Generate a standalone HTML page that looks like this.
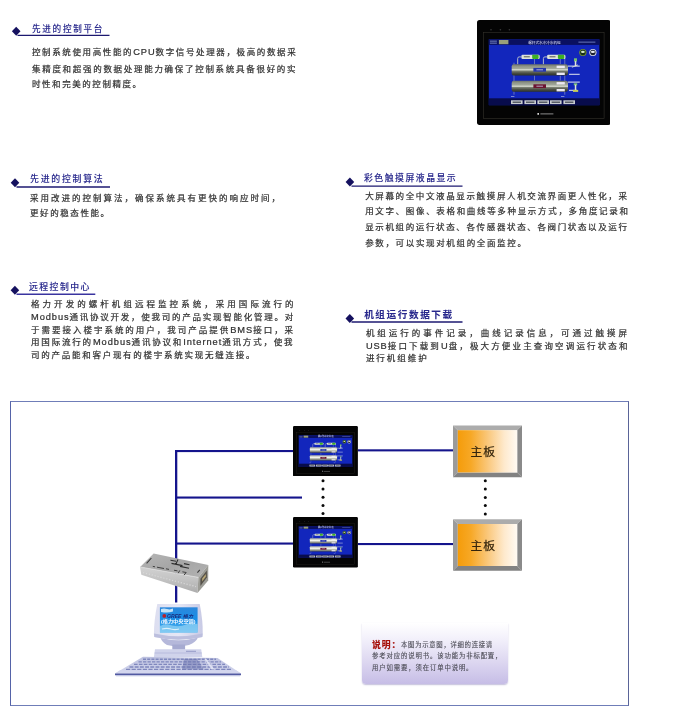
<!DOCTYPE html><html lang="zh-CN"><head><meta charset="utf-8"><title>控制系统</title><style>
*{margin:0;padding:0;box-sizing:border-box}
html,body{width:700px;height:721px;background:#fff;overflow:hidden}
body{position:relative;font-family:"Liberation Sans","Noto Sans CJK SC",sans-serif;color:#303030}
.ln{position:absolute;white-space:nowrap;line-height:14px;height:14px;-webkit-text-stroke:0.22px currentColor}
.hd{color:#28288c;-webkit-text-stroke:0.08px currentColor}
.ul{position:absolute;height:1.3px;background:#1c1870}
.dm{position:absolute;width:6.2px;height:6.2px;background:#15115f;transform:rotate(45deg)}
.la{font-size:1.09em;letter-spacing:.95px}
.abs{position:absolute}
</style></head><body>
<div id="gx" style="position:absolute;left:0;top:0;width:700px;height:721px;will-change:transform"><div class="abs" style="left:10px;top:401px;width:619px;height:305px;border:1px solid #6f7db8;border-left-color:#5563a8;border-right-color:#5a6498"></div>
<svg class="abs" style="left:0;top:0" width="700" height="721" viewBox="0 0 700 721"><line x1="17.50" y1="35.40" x2="109.50" y2="35.40" stroke="#1c1870" stroke-width="1.35"/><polygon points="11.90,31.30 16.20,26.80 20.50,31.30 16.20,35.80" fill="#15115f"/><line x1="16.50" y1="187.00" x2="110.00" y2="187.00" stroke="#1c1870" stroke-width="1.35"/><polygon points="10.70,182.80 15.00,178.30 19.30,182.80 15.00,187.30" fill="#15115f"/><line x1="16.50" y1="294.20" x2="95.30" y2="294.20" stroke="#3a34a0" stroke-width="1.35"/><polygon points="10.60,290.20 14.90,285.70 19.20,290.20 14.90,294.70" fill="#15115f"/><line x1="351.50" y1="186.10" x2="462.50" y2="186.10" stroke="#1c1870" stroke-width="1.35"/><polygon points="345.60,182.10 349.90,177.60 354.20,182.10 349.90,186.60" fill="#15115f"/><line x1="351.50" y1="322.00" x2="462.50" y2="322.00" stroke="#1c1870" stroke-width="1.35"/><polygon points="345.50,318.40 349.80,313.90 354.10,318.40 349.80,322.90" fill="#15115f"/><rect x="175.00" y="450.00" width="2.30" height="152.50" fill="#14148c"/><rect x="175.00" y="450.00" width="119.00" height="2.10" fill="#14148c"/><rect x="175.00" y="496.50" width="127.00" height="2.10" fill="#14148c"/><rect x="175.00" y="542.50" width="119.00" height="2.10" fill="#14148c"/><rect x="358.00" y="449.30" width="96.00" height="2.10" fill="#14148c"/><rect x="358.00" y="543.00" width="96.00" height="2.10" fill="#14148c"/><circle cx="323.00" cy="480.70" r="1.50" fill="#0a0a0a"/><circle cx="323.00" cy="489.00" r="1.50" fill="#0a0a0a"/><circle cx="323.00" cy="497.30" r="1.50" fill="#0a0a0a"/><circle cx="323.00" cy="505.60" r="1.50" fill="#0a0a0a"/><circle cx="323.00" cy="513.50" r="1.50" fill="#0a0a0a"/><circle cx="485.30" cy="480.70" r="1.50" fill="#0a0a0a"/><circle cx="485.30" cy="489.10" r="1.50" fill="#0a0a0a"/><circle cx="485.30" cy="497.50" r="1.50" fill="#0a0a0a"/><circle cx="485.30" cy="505.60" r="1.50" fill="#0a0a0a"/><circle cx="485.30" cy="514.00" r="1.50" fill="#0a0a0a"/></svg>
<svg class="abs" style="left:448px;top:420px" width="80" height="60" viewBox="448 420 80 60"><defs><linearGradient id="og1" x1="0" y1="0" x2="1" y2="0"><stop offset="0" stop-color="#f59c0a"/><stop offset=".22" stop-color="#f7a826"/><stop offset=".5" stop-color="#fac77a"/><stop offset=".78" stop-color="#fee9cc"/><stop offset="1" stop-color="#fffaf3"/></linearGradient></defs><polygon points="453.00,425.40 522.00,425.40 517.20,430.20 457.80,430.20" fill="#acacac"/><polygon points="453.00,425.40 457.80,430.20 457.80,472.40 453.00,477.20" fill="#9b9b9b"/><polygon points="522.00,425.40 522.00,477.20 517.20,472.40 517.20,430.20" fill="#8a8a8a"/><polygon points="453.00,477.20 457.80,472.40 517.20,472.40 522.00,477.20" fill="#828282"/><rect x="457.80" y="430.20" width="59.40" height="42.20" fill="url(#og1)"/></svg>
<svg class="abs" style="left:448px;top:514px" width="80" height="60" viewBox="448 514 80 60"><defs><linearGradient id="og2" x1="0" y1="0" x2="1" y2="0"><stop offset="0" stop-color="#f59c0a"/><stop offset=".22" stop-color="#f7a826"/><stop offset=".5" stop-color="#fac77a"/><stop offset=".78" stop-color="#fee9cc"/><stop offset="1" stop-color="#fffaf3"/></linearGradient></defs><polygon points="453.00,519.20 522.00,519.20 517.20,524.00 457.80,524.00" fill="#acacac"/><polygon points="453.00,519.20 457.80,524.00 457.80,566.00 453.00,570.80" fill="#9b9b9b"/><polygon points="522.00,519.20 522.00,570.80 517.20,566.00 517.20,524.00" fill="#8a8a8a"/><polygon points="453.00,570.80 457.80,566.00 517.20,566.00 522.00,570.80" fill="#828282"/><rect x="457.80" y="524.00" width="59.40" height="42.00" fill="url(#og2)"/></svg>
<div class="abs" style="left:362px;top:623px;width:145.5px;height:60.8px;border-radius:0 0 4px 4px;background:linear-gradient(180deg,#ffffff 0%,#f3f1fb 25%,#dcd6f0 65%,#c6bde6 100%);box-shadow:0 1px 1.5px rgba(120,110,170,.45)"></div>
<svg class="abs" style="left:476.60px;top:20.30px" width="133.90" height="104.90" viewBox="476.6 20.3 133.9 104.9" preserveAspectRatio="none"><defs><linearGradient id="tka" x1="0" y1="0" x2="0" y2="1"><stop offset="0" stop-color="#6c7268"/><stop offset=".18" stop-color="#8f9588"/><stop offset=".40" stop-color="#a4aa9c"/><stop offset=".50" stop-color="#e2e6da"/><stop offset=".60" stop-color="#7c8274"/><stop offset=".8" stop-color="#4a4e44"/><stop offset="1" stop-color="#2c3028"/></linearGradient></defs><rect x="476.6" y="20.3" width="133.9" height="104.9" rx="2.6" fill="#040404"/><rect x="483.3" y="33" width="120.4" height="86" fill="none" stroke="#34322c" stroke-width=".6"/><circle cx="490.6" cy="30" r=".8" fill="#3a3a3a"/><circle cx="500" cy="30" r=".8" fill="#3a3a3a"/><circle cx="509" cy="30" r=".8" fill="#3a3a3a"/><rect x="488.4" y="39.6" width="110.6" height="65.9" fill="#1226bc"/><rect x="488.4" y="39.6" width="110.6" height="5.6" fill="#0a1060"/><rect x="488.4" y="98.6" width="110.6" height="6.9" fill="#080c4c"/><rect x="498.5" y="40.3" width="9.5" height="4.2" fill="#9aa07a"/><rect x="489.5" y="41" width="7" height=".8" fill="#8fa0d8"/><rect x="489.5" y="43" width="7" height=".8" fill="#8fa0d8"/><text x="544" y="43.9" font-size="3.6" fill="#e8ecff" text-anchor="middle" font-family='"Liberation Sans","Noto Sans CJK SC",sans-serif'>螺杆式水冷冷水机组</text><rect x="578" y="42" width="17" height=".8" fill="#7f8fd0"/><circle cx="582.5" cy="52.8" r="3.6" fill="#7a9a28"/><circle cx="582.5" cy="52.8" r="2.7" fill="#16301a"/><ellipse cx="582.5" cy="52.2" rx="1.9" ry="1.1" fill="#d8ecc8"/><circle cx="592.5" cy="52.8" r="3.6" fill="#e4e6ea"/><circle cx="592.5" cy="52.8" r="2.7" fill="#1c2030"/><ellipse cx="592.5" cy="52.2" rx="2" ry="1.1" fill="#eef0f4"/><path d="M513.6 63 V95 M564.4 56 V95 M534.1 59 V64.6 M559.9 59 V64.6 M534.1 75.7 V80.8 M559.9 75.7 V80.8" stroke="#9aa4c8" stroke-width=".6" fill="none"/><path d="M521.0 57.2 h-2.2 q-1.5 0 -1.5 1.6 v5.8" fill="none" stroke="#c4c8cc" stroke-width=".9"/><rect x="521.0" y="55.1" width="18.3" height="4.1" rx="1.2" fill="#dfe3da"/><rect x="531.8" y="55.1" width="6.4" height="4.1" rx=".8" fill="#3eb024"/><rect x="523.4" y="56.6" width="6" height="1" fill="#555c50"/><path d="M546.7 57.2 h-2.2 q-1.5 0 -1.5 1.6 v5.8" fill="none" stroke="#c4c8cc" stroke-width=".9"/><rect x="546.7" y="55.1" width="18.3" height="4.1" rx="1.2" fill="#dfe3da"/><rect x="557.5" y="55.1" width="6.4" height="4.1" rx=".8" fill="#3eb024"/><rect x="549.1" y="56.6" width="6" height="1" fill="#555c50"/><rect x="511.3" y="64.6" width="56.3" height="11.1" rx="2.2" fill="url(#tka)"/><rect x="533" y="68.2" width="12.6" height="3.8" fill="#2636ac"/><rect x="536" y="69.6" width="6.6" height="1" fill="#c8cce8" opacity=".8"/><rect x="556.2" y="66.0" width="8.2" height="2.4" fill="#eceaf2"/><rect x="556.2" y="72.9" width="8.2" height="2.4" fill="#eceaf2"/><rect x="511.3" y="81.0" width="56.3" height="11.1" rx="2.2" fill="url(#tka)"/><rect x="533" y="84.6" width="12.6" height="3.8" fill="#6c1430"/><rect x="536" y="86.0" width="6.6" height="1" fill="#c8cce8" opacity=".8"/><rect x="556.2" y="82.4" width="8.2" height="2.4" fill="#eceaf2"/><rect x="556.2" y="89.3" width="8.2" height="2.4" fill="#eceaf2"/><path d="M567.6 66.4 h11.8 M568.6 74.6 h10.7 M567.6 82.4 h11.8 M568.6 90.6 h8" stroke="#e4e8ee" stroke-width="1" fill="none"/><rect x="573.6" y="58.6" width="3" height="3.2" fill="#78c070"/><rect x="574.4" y="61.4" width="1.5" height="5" fill="#e0e4d8"/><path d="M571.5 67.6 l6 -2.4" stroke="#e0e4d8" stroke-width=".8"/><rect x="573.4" y="83.6" width="3.4" height="2" fill="#78c070"/><rect x="574.4" y="85" width="1.5" height="5.6" fill="#e0e4d8"/><rect x="572.6" y="90.2" width="5.2" height="2" fill="#c8cc58"/><rect x="510.6" y="100.6" width="11.6" height="3.8" fill="#c8ccd0"/><rect x="512.2" y="101.9" width="8.4" height="1.2" fill="#3c404c"/><rect x="524.0" y="100.6" width="11.6" height="3.8" fill="#c8ccd0"/><rect x="525.6" y="101.9" width="8.4" height="1.2" fill="#3c404c"/><rect x="537.0" y="100.6" width="11.6" height="3.8" fill="#c8ccd0"/><rect x="538.6" y="101.9" width="8.4" height="1.2" fill="#3c404c"/><rect x="549.6" y="100.6" width="11.6" height="3.8" fill="#c8ccd0"/><rect x="551.2" y="101.9" width="8.4" height="1.2" fill="#3c404c"/><rect x="563.0" y="100.6" width="11.6" height="3.8" fill="#c8ccd0"/><rect x="564.6" y="101.9" width="8.4" height="1.2" fill="#3c404c"/><rect x="510.6" y="96.6" width="3.4" height=".7" fill="#a8b0e0"/><rect x="560.6" y="96.6" width="3.4" height=".7" fill="#a8b0e0"/><rect x="537" y="113.3" width="1.6" height="1.8" fill="#d8d8d8"/><rect x="540" y="113.7" width="13" height="1" fill="#8c8c8c"/></svg>
<svg class="abs" style="left:293.40px;top:425.80px" width="64.90" height="50.50" viewBox="476.6 20.3 133.9 104.9" preserveAspectRatio="none"><defs><linearGradient id="tkb" x1="0" y1="0" x2="0" y2="1"><stop offset="0" stop-color="#a8aca4"/><stop offset=".42" stop-color="#f2f4ec"/><stop offset=".7" stop-color="#a4a89c"/><stop offset="1" stop-color="#4c5048"/></linearGradient></defs><rect x="476.6" y="20.3" width="133.9" height="104.9" rx="2.6" fill="#040404"/><rect x="483.3" y="33" width="120.4" height="86" fill="none" stroke="#34322c" stroke-width=".6"/><circle cx="490.6" cy="30" r=".8" fill="#3a3a3a"/><circle cx="500" cy="30" r=".8" fill="#3a3a3a"/><circle cx="509" cy="30" r=".8" fill="#3a3a3a"/><rect x="488.4" y="39.6" width="110.6" height="65.9" fill="#1226bc"/><rect x="488.4" y="39.6" width="110.6" height="5.6" fill="#0a1060"/><rect x="488.4" y="98.6" width="110.6" height="6.9" fill="#080c4c"/><rect x="498.5" y="40.3" width="9.5" height="4.2" fill="#9aa07a"/><rect x="489.5" y="41" width="7" height=".8" fill="#8fa0d8"/><rect x="489.5" y="43" width="7" height=".8" fill="#8fa0d8"/><text x="544" y="43.9" font-size="3.6" fill="#e8ecff" text-anchor="middle" font-family='"Liberation Sans","Noto Sans CJK SC",sans-serif'>螺杆式水冷冷水机组</text><rect x="578" y="42" width="17" height=".8" fill="#7f8fd0"/><circle cx="582.5" cy="52.8" r="3.6" fill="#7a9a28"/><circle cx="582.5" cy="52.8" r="2.7" fill="#16301a"/><ellipse cx="582.5" cy="52.2" rx="1.9" ry="1.1" fill="#d8ecc8"/><circle cx="592.5" cy="52.8" r="3.6" fill="#e4e6ea"/><circle cx="592.5" cy="52.8" r="2.7" fill="#1c2030"/><ellipse cx="592.5" cy="52.2" rx="2" ry="1.1" fill="#eef0f4"/><path d="M513.6 63 V95 M564.4 56 V95 M534.1 59 V64.6 M559.9 59 V64.6 M534.1 75.7 V80.8 M559.9 75.7 V80.8" stroke="#9aa4c8" stroke-width=".6" fill="none"/><path d="M521.0 57.2 h-2.2 q-1.5 0 -1.5 1.6 v5.8" fill="none" stroke="#c4c8cc" stroke-width=".9"/><rect x="521.0" y="55.1" width="18.3" height="4.1" rx="1.2" fill="#dfe3da"/><rect x="531.8" y="55.1" width="6.4" height="4.1" rx=".8" fill="#3eb024"/><rect x="523.4" y="56.6" width="6" height="1" fill="#555c50"/><path d="M546.7 57.2 h-2.2 q-1.5 0 -1.5 1.6 v5.8" fill="none" stroke="#c4c8cc" stroke-width=".9"/><rect x="546.7" y="55.1" width="18.3" height="4.1" rx="1.2" fill="#dfe3da"/><rect x="557.5" y="55.1" width="6.4" height="4.1" rx=".8" fill="#3eb024"/><rect x="549.1" y="56.6" width="6" height="1" fill="#555c50"/><rect x="511.3" y="64.6" width="56.3" height="11.1" rx="2.2" fill="url(#tkb)"/><rect x="533" y="68.2" width="12.6" height="3.8" fill="#2636ac"/><rect x="536" y="69.6" width="6.6" height="1" fill="#c8cce8" opacity=".8"/><rect x="556.2" y="66.0" width="8.2" height="2.4" fill="#eceaf2"/><rect x="556.2" y="72.9" width="8.2" height="2.4" fill="#eceaf2"/><rect x="511.3" y="81.0" width="56.3" height="11.1" rx="2.2" fill="url(#tkb)"/><rect x="533" y="84.6" width="12.6" height="3.8" fill="#6c1430"/><rect x="536" y="86.0" width="6.6" height="1" fill="#c8cce8" opacity=".8"/><rect x="556.2" y="82.4" width="8.2" height="2.4" fill="#eceaf2"/><rect x="556.2" y="89.3" width="8.2" height="2.4" fill="#eceaf2"/><path d="M567.6 66.4 h11.8 M568.6 74.6 h10.7 M567.6 82.4 h11.8 M568.6 90.6 h8" stroke="#e4e8ee" stroke-width="1" fill="none"/><rect x="573.6" y="58.6" width="3" height="3.2" fill="#78c070"/><rect x="574.4" y="61.4" width="1.5" height="5" fill="#e0e4d8"/><path d="M571.5 67.6 l6 -2.4" stroke="#e0e4d8" stroke-width=".8"/><rect x="573.4" y="83.6" width="3.4" height="2" fill="#78c070"/><rect x="574.4" y="85" width="1.5" height="5.6" fill="#e0e4d8"/><rect x="572.6" y="90.2" width="5.2" height="2" fill="#c8cc58"/><rect x="510.6" y="100.6" width="11.6" height="3.8" fill="#c8ccd0"/><rect x="512.2" y="101.9" width="8.4" height="1.2" fill="#3c404c"/><rect x="524.0" y="100.6" width="11.6" height="3.8" fill="#c8ccd0"/><rect x="525.6" y="101.9" width="8.4" height="1.2" fill="#3c404c"/><rect x="537.0" y="100.6" width="11.6" height="3.8" fill="#c8ccd0"/><rect x="538.6" y="101.9" width="8.4" height="1.2" fill="#3c404c"/><rect x="549.6" y="100.6" width="11.6" height="3.8" fill="#c8ccd0"/><rect x="551.2" y="101.9" width="8.4" height="1.2" fill="#3c404c"/><rect x="563.0" y="100.6" width="11.6" height="3.8" fill="#c8ccd0"/><rect x="564.6" y="101.9" width="8.4" height="1.2" fill="#3c404c"/><rect x="510.6" y="96.6" width="3.4" height=".7" fill="#a8b0e0"/><rect x="560.6" y="96.6" width="3.4" height=".7" fill="#a8b0e0"/><rect x="537" y="113.3" width="1.6" height="1.8" fill="#d8d8d8"/><rect x="540" y="113.7" width="13" height="1" fill="#8c8c8c"/></svg>
<svg class="abs" style="left:293.40px;top:517.40px" width="64.90" height="50.40" viewBox="476.6 20.3 133.9 104.9" preserveAspectRatio="none"><defs><linearGradient id="tkc" x1="0" y1="0" x2="0" y2="1"><stop offset="0" stop-color="#a8aca4"/><stop offset=".42" stop-color="#f2f4ec"/><stop offset=".7" stop-color="#a4a89c"/><stop offset="1" stop-color="#4c5048"/></linearGradient></defs><rect x="476.6" y="20.3" width="133.9" height="104.9" rx="2.6" fill="#040404"/><rect x="483.3" y="33" width="120.4" height="86" fill="none" stroke="#34322c" stroke-width=".6"/><circle cx="490.6" cy="30" r=".8" fill="#3a3a3a"/><circle cx="500" cy="30" r=".8" fill="#3a3a3a"/><circle cx="509" cy="30" r=".8" fill="#3a3a3a"/><rect x="488.4" y="39.6" width="110.6" height="65.9" fill="#1226bc"/><rect x="488.4" y="39.6" width="110.6" height="5.6" fill="#0a1060"/><rect x="488.4" y="98.6" width="110.6" height="6.9" fill="#080c4c"/><rect x="498.5" y="40.3" width="9.5" height="4.2" fill="#9aa07a"/><rect x="489.5" y="41" width="7" height=".8" fill="#8fa0d8"/><rect x="489.5" y="43" width="7" height=".8" fill="#8fa0d8"/><text x="544" y="43.9" font-size="3.6" fill="#e8ecff" text-anchor="middle" font-family='"Liberation Sans","Noto Sans CJK SC",sans-serif'>螺杆式水冷冷水机组</text><rect x="578" y="42" width="17" height=".8" fill="#7f8fd0"/><circle cx="582.5" cy="52.8" r="3.6" fill="#7a9a28"/><circle cx="582.5" cy="52.8" r="2.7" fill="#16301a"/><ellipse cx="582.5" cy="52.2" rx="1.9" ry="1.1" fill="#d8ecc8"/><circle cx="592.5" cy="52.8" r="3.6" fill="#e4e6ea"/><circle cx="592.5" cy="52.8" r="2.7" fill="#1c2030"/><ellipse cx="592.5" cy="52.2" rx="2" ry="1.1" fill="#eef0f4"/><path d="M513.6 63 V95 M564.4 56 V95 M534.1 59 V64.6 M559.9 59 V64.6 M534.1 75.7 V80.8 M559.9 75.7 V80.8" stroke="#9aa4c8" stroke-width=".6" fill="none"/><path d="M521.0 57.2 h-2.2 q-1.5 0 -1.5 1.6 v5.8" fill="none" stroke="#c4c8cc" stroke-width=".9"/><rect x="521.0" y="55.1" width="18.3" height="4.1" rx="1.2" fill="#dfe3da"/><rect x="531.8" y="55.1" width="6.4" height="4.1" rx=".8" fill="#3eb024"/><rect x="523.4" y="56.6" width="6" height="1" fill="#555c50"/><path d="M546.7 57.2 h-2.2 q-1.5 0 -1.5 1.6 v5.8" fill="none" stroke="#c4c8cc" stroke-width=".9"/><rect x="546.7" y="55.1" width="18.3" height="4.1" rx="1.2" fill="#dfe3da"/><rect x="557.5" y="55.1" width="6.4" height="4.1" rx=".8" fill="#3eb024"/><rect x="549.1" y="56.6" width="6" height="1" fill="#555c50"/><rect x="511.3" y="64.6" width="56.3" height="11.1" rx="2.2" fill="url(#tkc)"/><rect x="533" y="68.2" width="12.6" height="3.8" fill="#2636ac"/><rect x="536" y="69.6" width="6.6" height="1" fill="#c8cce8" opacity=".8"/><rect x="556.2" y="66.0" width="8.2" height="2.4" fill="#eceaf2"/><rect x="556.2" y="72.9" width="8.2" height="2.4" fill="#eceaf2"/><rect x="511.3" y="81.0" width="56.3" height="11.1" rx="2.2" fill="url(#tkc)"/><rect x="533" y="84.6" width="12.6" height="3.8" fill="#6c1430"/><rect x="536" y="86.0" width="6.6" height="1" fill="#c8cce8" opacity=".8"/><rect x="556.2" y="82.4" width="8.2" height="2.4" fill="#eceaf2"/><rect x="556.2" y="89.3" width="8.2" height="2.4" fill="#eceaf2"/><path d="M567.6 66.4 h11.8 M568.6 74.6 h10.7 M567.6 82.4 h11.8 M568.6 90.6 h8" stroke="#e4e8ee" stroke-width="1" fill="none"/><rect x="573.6" y="58.6" width="3" height="3.2" fill="#78c070"/><rect x="574.4" y="61.4" width="1.5" height="5" fill="#e0e4d8"/><path d="M571.5 67.6 l6 -2.4" stroke="#e0e4d8" stroke-width=".8"/><rect x="573.4" y="83.6" width="3.4" height="2" fill="#78c070"/><rect x="574.4" y="85" width="1.5" height="5.6" fill="#e0e4d8"/><rect x="572.6" y="90.2" width="5.2" height="2" fill="#c8cc58"/><rect x="510.6" y="100.6" width="11.6" height="3.8" fill="#c8ccd0"/><rect x="512.2" y="101.9" width="8.4" height="1.2" fill="#3c404c"/><rect x="524.0" y="100.6" width="11.6" height="3.8" fill="#c8ccd0"/><rect x="525.6" y="101.9" width="8.4" height="1.2" fill="#3c404c"/><rect x="537.0" y="100.6" width="11.6" height="3.8" fill="#c8ccd0"/><rect x="538.6" y="101.9" width="8.4" height="1.2" fill="#3c404c"/><rect x="549.6" y="100.6" width="11.6" height="3.8" fill="#c8ccd0"/><rect x="551.2" y="101.9" width="8.4" height="1.2" fill="#3c404c"/><rect x="563.0" y="100.6" width="11.6" height="3.8" fill="#c8ccd0"/><rect x="564.6" y="101.9" width="8.4" height="1.2" fill="#3c404c"/><rect x="510.6" y="96.6" width="3.4" height=".7" fill="#a8b0e0"/><rect x="560.6" y="96.6" width="3.4" height=".7" fill="#a8b0e0"/><rect x="537" y="113.3" width="1.6" height="1.8" fill="#d8d8d8"/><rect x="540" y="113.7" width="13" height="1" fill="#8c8c8c"/></svg>
<svg class="abs" style="left:105px;top:545px" width="150" height="140" viewBox="105 545 150 140">
<defs>
<linearGradient id="cvt" x1="0" y1="0" x2="1" y2="1"><stop offset="0" stop-color="#b6b6b6"/><stop offset=".5" stop-color="#a6a6a6"/><stop offset="1" stop-color="#b2b2b2"/></linearGradient>
<linearGradient id="cvf" x1="0" y1="0" x2="0" y2="1"><stop offset="0" stop-color="#d2d2d2"/><stop offset=".45" stop-color="#c4c4c4"/><stop offset="1" stop-color="#adadad"/></linearGradient>
<linearGradient id="sky" x1="0" y1="0" x2="0" y2="1"><stop offset="0" stop-color="#2c88dc"/><stop offset=".45" stop-color="#1a8ee6"/><stop offset="1" stop-color="#55b6ee"/></linearGradient>
<linearGradient id="mon" x1="0" y1="0" x2="1" y2="0"><stop offset="0" stop-color="#dcdef0"/><stop offset=".5" stop-color="#e6e7f5"/><stop offset="1" stop-color="#c8cae5"/></linearGradient>
<linearGradient id="kb" x1="0" y1="0" x2="0" y2="1"><stop offset="0" stop-color="#bcc0df"/><stop offset="1" stop-color="#d4d7ee"/></linearGradient>
</defs>
<!-- converter -->
<polygon points="153.6,553.5 208.3,565.1 198.4,577.4 140.1,567" fill="url(#cvt)"/>
<polygon points="140.1,567 198.4,577.4 197.5,592.9 141.3,574.7" fill="url(#cvf)"/>
<polygon points="198.4,577.4 208.3,565.1 208.2,580.5 197.5,592.9" fill="#9c9c96"/>
<polygon points="200.4,578.8 206.9,570.6 206.9,577.6 200.4,586" fill="#56524a"/>
<polygon points="202.2,578.6 205.8,574 205.8,576.8 202.2,581.4" fill="#b8a878"/>
<path d="M140.1 567 L198.4 577.4" stroke="#dadada" stroke-width=".9" fill="none"/>
<path d="M143 572.6 L196 586.6" stroke="#d8d8d8" stroke-width="1.2" stroke-dasharray="1.2 1.8" fill="none"/>
<path d="M170.5 560.2 l5.5 1.1 M178 559.4 l-2.4 5 M171.5 563.4 l11 2.2 M184 563.6 l5.5 1.1 M180 566.4 l9 1.8" stroke="#303030" stroke-width="1.1" fill="none"/>
<path d="M152.8 566.4 l2.2 .4 M157 567.2 l7 1.3 M166 568.8 l3 .6 M174 570.2 l3.5 .7 M179.8 570.4 l-1.6 2.8 M182.4 571.8 l3.8 .7 l-2.2 2.6" stroke="#3c3c3c" stroke-width=".95" fill="none"/>
<path d="M146.6 563.4 l4.8 -5.4 M197.4 572.6 l2.4 -2.8" stroke="#3a3a3a" stroke-width="1.1" fill="none"/>
<!-- keyboard -->
<polygon points="143,656.8 217.5,658 241,673.6 115,673.6" fill="url(#kb)"/>
<g stroke="#7f87bd" stroke-width="1.35" fill="none">
<path d="M143 659.2 H216" stroke-dasharray="3.0 1.2"/>
<path d="M138.5 661.8 H221" stroke-dasharray="3.3 1.2"/>
<path d="M134 664.4 H225" stroke-dasharray="3.6 1.3"/>
<path d="M129.5 667 H229" stroke-dasharray="3.9 1.3"/>
<path d="M126 669.4 H232" stroke-dasharray="4.2 1.4"/>
</g>
<path d="M184 659 l13 0 l7 10.5 l-22 0 z" fill="#6a72ae" opacity=".5"/><path d="M204.5 659 l2 0 l8 10.5 l-3 0 z" fill="#e2e4f4" opacity=".9"/>
<polygon points="120,670.3 236,670.3 241,673.6 115,673.6" fill="#d3d6ee"/>
<polygon points="115,673.4 241,673.4 241,675.3 115,675.3" fill="#525aa2"/>
<path d="M116 675.8 H240" stroke="#b9bddf" stroke-width=".9"/>
<!-- monitor -->
<path d="M160.3 637.5 Q178 643 198 637.5 Q196 642 189 645 Q178 647.5 167 645 Q162 642 160.3 637.5 Z" fill="#b5b8da"/>
<rect x="172.3" y="644.5" width="12.8" height="5.2" fill="#a6aad1"/>
<path d="M155 649.3 H201.2 L202.3 657 H153.9 Z" fill="#d0d3eb"/>
<path d="M154.6 653 H201.8" stroke="#b2b6d9" stroke-width=".8"/>
<path d="M186 651.3 h10" stroke="#8d93c2" stroke-width=".9"/>
<path d="M157.3 603.9 H199.7 Q203 620 202.7 634 L202.3 637 Q178 642.5 154.3 637 L153.9 634 Q154 620 157.3 603.9 Z" fill="url(#mon)"/>
<path d="M154 633.6 Q178 639 202.6 633.6 L202.3 637 Q178 642.5 154.3 637 Z" fill="#bcbfde"/>
<rect x="159.9" y="607.3" width="37.7" height="25.3" fill="url(#sky)"/>
<path d="M161 609 q3 -1.2 6 0 q3 1 6 -.4 l0 3 q-5 1.6 -12 .4 z" fill="#d6ecfa" opacity=".9"/>
<path d="M160 626 q6 -2.5 12 -.6 q8 2 14 -1 q5 -2 11.5 -.4 l0 8.6 l-37.5 0 z" fill="#8fd0f4" opacity=".75"/>
<path d="M162 629 q5 -1.4 9 0 q4 1.2 8 0" stroke="#e4f4fc" stroke-width="1.2" fill="none" opacity=".9"/>
<circle cx="164.3" cy="615.9" r="1.9" fill="#b8202a"/>
<text x="167" y="617.6" font-size="4.6" font-weight="700" font-style="italic" fill="#1a2a7a" font-family='"Liberation Sans","Noto Sans CJK SC",sans-serif' textLength="26" lengthAdjust="spacingAndGlyphs">GREE 格力</text>
<text x="161" y="623.2" font-size="4.4" font-weight="700" fill="#f4f8ff" font-family='"Liberation Sans","Noto Sans CJK SC",sans-serif' textLength="34.5" lengthAdjust="spacingAndGlyphs">(格力中央空调)</text>
</svg>
</div>
<div id="tx" style="position:absolute;left:0;top:0;width:700px;height:721px;will-change:transform"><div class="ln hd" style="left:32.00px;top:22.02px;font-size:8.60px;letter-spacing:1.705px;font-weight:500;">先进的控制平台</div>
<div class="ln hd" style="left:30.00px;top:172.26px;font-size:8.90px;letter-spacing:1.751px;font-weight:500;">先进的控制算法</div>
<div class="ln hd" style="left:29.00px;top:279.64px;font-size:8.90px;letter-spacing:1.433px;font-weight:500;">远程控制中心</div>
<div class="ln hd" style="left:364.00px;top:171.26px;font-size:8.90px;letter-spacing:1.481px;font-weight:500;">彩色触摸屏液晶显示</div>
<div class="ln hd" style="left:364.14px;top:308.14px;font-size:9.60px;letter-spacing:1.609px;font-weight:700;">机组运行数据下载</div>
<div class="ln " style="left:32.00px;top:45.24px;font-size:8.50px;letter-spacing:1.620px;font-weight:400;">控制系统使用高性能的<span class="la">CPU</span>数字信号处理器，极高的数据采</div>
<div class="ln " style="left:32.00px;top:61.50px;font-size:8.50px;letter-spacing:1.701px;font-weight:400;">集精度和超强的数据处理能力确保了控制系统具备很好的实</div>
<div class="ln " style="left:32.00px;top:77.26px;font-size:8.50px;letter-spacing:1.555px;font-weight:400;">时性和完美的控制精度。</div>
<div class="ln " style="left:30.00px;top:190.50px;font-size:8.50px;letter-spacing:2.002px;font-weight:400;">采用改进的控制算法，确保系统具有更快的响应时间，</div>
<div class="ln " style="left:30.00px;top:206.38px;font-size:8.50px;letter-spacing:1.581px;font-weight:400;">更好的稳态性能。</div>
<div class="ln " style="left:31.00px;top:297.24px;font-size:8.50px;letter-spacing:3.048px;font-weight:400;">格力开发的螺杆机组远程监控系统，采用国际流行的</div>
<div class="ln " style="left:31.00px;top:309.74px;font-size:8.50px;letter-spacing:1.742px;font-weight:400;"><span class="la">Modbus</span>通讯协议开发，使我司的产品实现智能化管理。对</div>
<div class="ln " style="left:31.00px;top:323.00px;font-size:8.50px;letter-spacing:1.986px;font-weight:400;">于需要接入楼宇系统的用户，我司产品提供<span class="la">BMS</span>接口，采</div>
<div class="ln " style="left:31.00px;top:335.00px;font-size:8.50px;letter-spacing:1.823px;font-weight:400;">用国际流行的<span class="la">Modbus</span>通讯协议和<span class="la">Internet</span>通讯方式，使我</div>
<div class="ln " style="left:31.00px;top:347.76px;font-size:8.50px;letter-spacing:1.735px;font-weight:400;">司的产品能和客户现有的楼宇系统实现无缝连接。</div>
<div class="ln " style="left:365.14px;top:188.74px;font-size:8.50px;letter-spacing:1.635px;font-weight:400;">大屏幕的全中文液晶显示触摸屏人机交流界面更人性化，采</div>
<div class="ln " style="left:365.14px;top:204.24px;font-size:8.50px;letter-spacing:1.671px;font-weight:400;">用文字、图像、表格和曲线等多种显示方式，多角度记录和</div>
<div class="ln " style="left:365.14px;top:220.12px;font-size:8.50px;letter-spacing:1.635px;font-weight:400;">显示机组的运行状态、各传感器状态、各阀门状态以及运行</div>
<div class="ln " style="left:365.14px;top:236.00px;font-size:8.50px;letter-spacing:1.652px;font-weight:400;">参数，可以实现对机组的全面监控。</div>
<div class="ln " style="left:365.88px;top:326.00px;font-size:8.50px;letter-spacing:2.984px;font-weight:400;">机组运行的事件记录，曲线记录信息，可通过触摸屏</div>
<div class="ln " style="left:365.88px;top:338.88px;font-size:8.50px;letter-spacing:2.146px;font-weight:400;"><span class="la">USB</span>接口下载到<span class="la">U</span>盘，极大方便业主查询空调运行状态和</div>
<div class="ln " style="left:365.88px;top:351.24px;font-size:8.50px;letter-spacing:1.985px;font-weight:400;">进行机组维护</div>
<div class="ln " style="left:470.50px;top:445.45px;font-size:11.80px;letter-spacing:0.970px;font-weight:400;color:#33240c;">主板</div>
<div class="ln " style="left:470.50px;top:539.45px;font-size:11.80px;letter-spacing:0.970px;font-weight:400;color:#33240c;">主板</div>
<div class="ln " style="left:372.00px;top:638.02px;font-size:8.80px;letter-spacing:0.900px;font-weight:700;color:#a6100a;">说明：</div>
<div class="ln " style="left:401.12px;top:638.14px;font-size:12.80px;letter-spacing:1.330px;font-weight:400;line-height:28px;height:28px;transform:scale(0.5000);transform-origin:0 0;color:#4c4c56;">本图为示意图，详细的连接请</div>
<div class="ln " style="left:372.00px;top:649.38px;font-size:12.80px;letter-spacing:1.687px;font-weight:400;line-height:28px;height:28px;transform:scale(0.5000);transform-origin:0 0;color:#4c4c56;">参考对应的说明书。该功能为非标配置，</div>
<div class="ln " style="left:372.00px;top:660.64px;font-size:12.80px;letter-spacing:1.683px;font-weight:400;line-height:28px;height:28px;transform:scale(0.5000);transform-origin:0 0;color:#4c4c56;">用户如需要，须在订单中说明。</div></div>
</body></html>
